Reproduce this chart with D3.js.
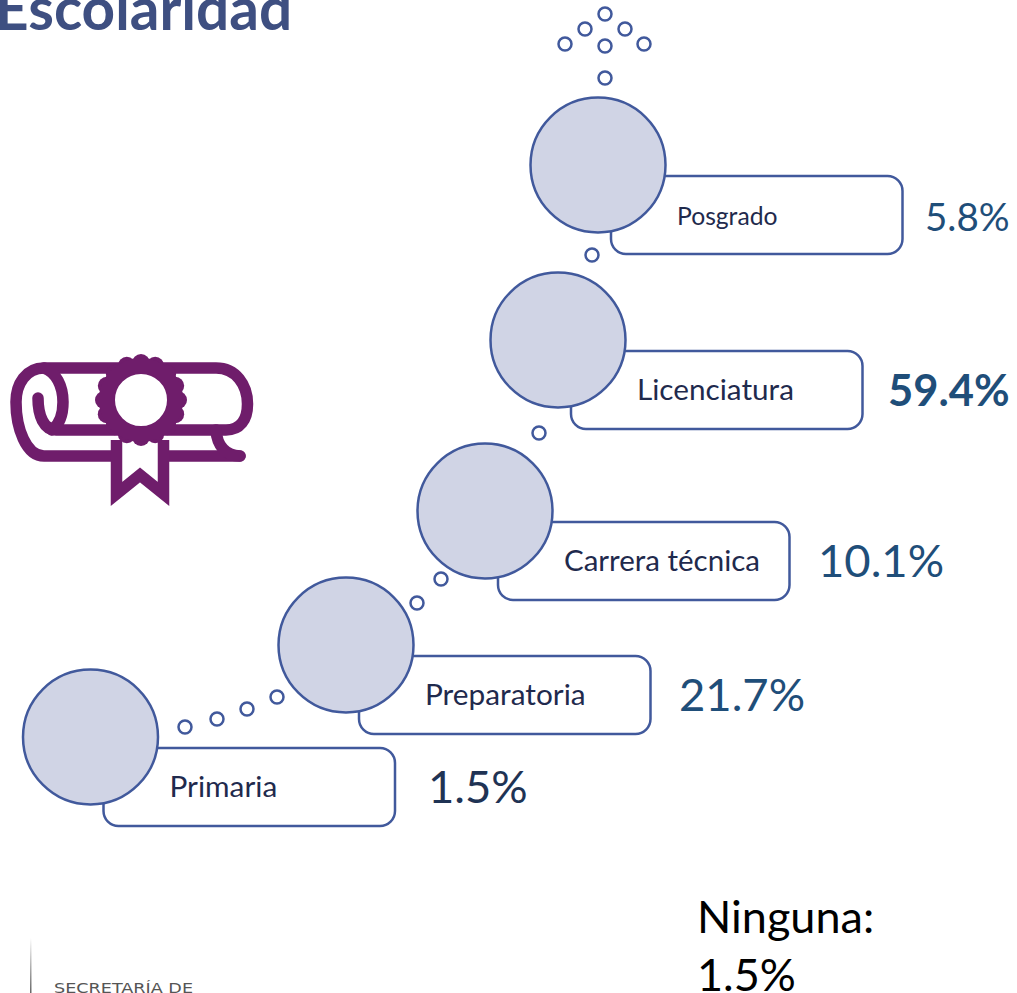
<!DOCTYPE html>
<html>
<head>
<meta charset="utf-8">
<script src="https://cdn.jsdelivr.net/npm/d3@7"></script>
<style>
html, body { margin: 0; padding: 0; background: #fff; overflow: hidden; }
text { font-family: Lato, "Open Sans", sans-serif; }
</style>
</head>
<body>
<div id="container"></div>
<script>
const levels = ["Primaria", "Preparatoria", "Carrera técnica", "Licenciatura", "Posgrado"];
const shares = [1.5, 21.7, 10.1, 59.4, 5.8];
const noneLabel = "Ninguna:";
const noneShare = 1.5;

const w = 1017;
const h = 993;
const blue = "#41599c";
const purple = "#6f1d6b";

// the staircase is irregular so the scales are ordinal
const xScale = d3.scaleOrdinal().domain(levels).range([90.5, 346, 485, 558, 598]);
const yScale = d3.scaleOrdinal().domain(levels).range([737, 645, 511, 340, 165]);
const labelSize = d3.scaleOrdinal().domain(levels).range([29.8, 29.8, 29.5, 29.7, 24.7]);
const valueSize = d3.scaleOrdinal().domain(levels).range([45.4, 45.4, 45.4, 43.5, 38.5]);
const valueX = d3.scaleOrdinal().domain(levels).range([428, 679, 818, 888, 925]);
const valueColor = d3.scaleOrdinal().domain(levels).range(["#1f3354", "#1f4e79", "#1f4e79", "#1f4e79", "#1f4e79"]);

const svg = d3.select("#container")
              .append("svg")
              .attr("width", w)
              .attr("height", h);

// title, cut off by the top edge
svg.append("text")
   .attr("x", -5)
   .attr("y", 30)
   .attr("fill", "#3e4f81")
   .style("font-size", "58.5px")
   .style("font-weight", 700)
   .text("Escolaridad");

// small bubbles between the steps
const bubbles = [[185, 727], [217, 719], [247, 709], [277, 697], [417, 603], [441, 579], [539, 433], [592, 255], [605, 78], [605, 46], [565, 44], [585, 29], [625, 29], [644, 44], [605, 14]];
svg.selectAll("circle.bubble")
   .data(bubbles)
   .enter()
   .append("circle")
   .attr("class", "bubble")
   .attr("cx", (d) => d[0])
   .attr("cy", (d) => d[1])
   .attr("r", 6.5)
   .attr("fill", "#fff")
   .attr("stroke", blue)
   .attr("stroke-width", 2.5);

// label boxes, square top left where the circle sits
const boxW = 291.5, boxH = 78, rr = 15;
svg.selectAll("path.box")
   .data(levels)
   .enter()
   .append("path")
   .attr("class", "box")
   .attr("d", function(d) {
       const x = xScale(d) + 13, y = yScale(d) + 11;
       return "M" + x + "," + y + "H" + (x + boxW - rr) + "a" + rr + "," + rr + " 0 0 1 " + rr + "," + rr +
              "V" + (y + boxH - rr) + "a" + rr + "," + rr + " 0 0 1 " + (-rr) + "," + rr +
              "H" + (x + rr) + "a" + rr + "," + rr + " 0 0 1 " + (-rr) + "," + (-rr) + "Z";
   })
   .attr("fill", "#fff")
   .attr("stroke", blue)
   .attr("stroke-width", 2.5);

// big circles
svg.selectAll("circle.step")
   .data(levels)
   .enter()
   .append("circle")
   .attr("class", "step")
   .attr("cx", (d) => xScale(d))
   .attr("cy", (d) => yScale(d))
   .attr("r", 67.5)
   .attr("fill", "#d0d4e5")
   .attr("stroke", blue)
   .attr("stroke-width", 2.5);

// level names
svg.selectAll("text.level")
   .data(levels)
   .enter()
   .append("text")
   .attr("class", "level")
   .attr("x", (d) => xScale(d) + 79)
   .attr("y", (d) => yScale(d) + 60)
   .attr("fill", "#1f2a4d")
   .style("font-size", (d) => labelSize(d) + "px")
   .text((d) => d);

// percentages
svg.selectAll("text.value")
   .data(levels)
   .enter()
   .append("text")
   .attr("class", "value")
   .attr("x", (d) => valueX(d))
   .attr("y", (d) => yScale(d) + 66)
   .attr("fill", (d) => valueColor(d))
   .style("font-size", (d) => valueSize(d) + "px")
   .style("font-weight", (d) => d === "Licenciatura" ? 700 : 400)
   .text((d, i) => shares[i].toFixed(1) + "%");

// none
svg.append("text")
   .attr("x", 697)
   .attr("y", 933)
   .attr("fill", "#000")
   .style("font-size", "45px")
   .text(noneLabel);
svg.append("text")
   .attr("x", 697)
   .attr("y", 991)
   .attr("fill", "#000")
   .style("font-size", "45px")
   .text(noneShare.toFixed(1) + "%");

// footer logo fragment
const fade = svg.append("defs").append("linearGradient")
   .attr("id", "fade")
   .attr("x1", 0).attr("y1", 0).attr("x2", 0).attr("y2", 1);
fade.append("stop").attr("offset", "0%").attr("stop-color", "#fff");
fade.append("stop").attr("offset", "100%").attr("stop-color", "#666");
svg.append("rect")
   .attr("x", 30)
   .attr("y", 938)
   .attr("width", 1.5)
   .attr("height", 55)
   .attr("fill", "url(#fade)");
svg.append("text")
   .attr("x", 54)
   .attr("y", 993)
   .attr("fill", "#555")
   .attr("textLength", 139)
   .attr("lengthAdjust", "spacingAndGlyphs")
   .style("font-family", "'DejaVu Sans', sans-serif")
   .style("font-size", "14px")
   .text("SECRETARÍA DE");

// diploma icon
const icon = svg.append("g")
   .attr("fill", "none")
   .attr("stroke", purple)
   .attr("stroke-width", 11.5)
   .attr("stroke-linecap", "round");
// outer roll and top edge, round the right side, back along the middle line and into the curl
icon.append("path").attr("d", "M240,456H44C26,456 16,428 16,402C16,384 26,368 44,368H216C236,368 247.5,385 247.5,404C247.5,420 240,430 226,430H56C44,430 38,416 38,398");
// inside of the roll
icon.append("path").attr("d", "M44,368C56,372 63,386 63,402C63,414 60,424 52,430");
// tail on the right
icon.append("path").attr("d", "M216,430C217,446 226,456 240,456");
// ribbon, white inside so the roll lines stop at its edges
icon.append("path")
    .attr("d", "M116.5,440V494L140,475L163.5,494V440")
    .attr("fill", "#fff")
    .attr("stroke-linecap", "butt");
// rosette
const scallops = d3.range(16).map((i) => i * 2 * Math.PI / 16);
svg.selectAll("circle.scallop")
   .data(scallops)
   .enter()
   .append("circle")
   .attr("class", "scallop")
   .attr("cx", (d) => 141 + 37 * Math.cos(d))
   .attr("cy", (d) => 400 + 37 * Math.sin(d))
   .attr("r", 9)
   .attr("fill", purple);
svg.append("circle").attr("cx", 141).attr("cy", 400).attr("r", 34).attr("fill", "#fff").attr("stroke", purple).attr("stroke-width", 16);
</script>
</body>
</html>
